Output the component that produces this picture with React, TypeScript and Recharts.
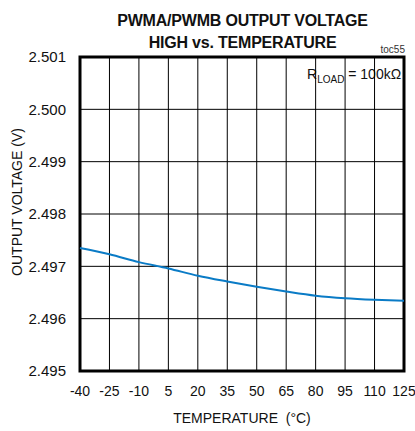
import { LineChart, Line, XAxis, YAxis, CartesianGrid, ReferenceArea } from "recharts";

const temps = [-40, -25, -10, 5, 20, 35, 50, 65, 80, 95, 110, 125];
const voltage = [2.49735, 2.49723, 2.49708, 2.49696, 2.49682, 2.49671, 2.49661, 2.49652, 2.49644, 2.49639, 2.49636, 2.49634];
const yTicks = [2.495, 2.496, 2.497, 2.498, 2.499, 2.5, 2.501];

const data = temps.map((t, i) => ({ t, v: voltage[i] }));

const font = "'Liberation Sans', Arial, sans-serif";
const narrow = "'Liberation Sans Narrow', 'Arial Narrow', 'Liberation Sans', sans-serif";

export default function App() {
  return (
    <div style={{ position: "absolute", left: 0, top: 0, width: 415, height: 431, background: "#fff", fontFamily: font }}>
      <div style={{ position: "absolute", left: 0, width: 415, top: 10, textAlign: "center", paddingLeft: 70, boxSizing: "border-box", fontWeight: "bold", fontSize: 16, lineHeight: "22px", letterSpacing: -0.2, color: "#111" }}>
        <div>PWMA/PWMB OUTPUT VOLTAGE</div>
        <div>HIGH vs. TEMPERATURE</div>
      </div>
      <div style={{ position: "absolute", right: 10, top: 44, fontSize: 10, color: "#333" }}>toc55</div>
      <div style={{ position: "absolute", left: 307, top: 66, fontSize: 14, fontFamily: narrow, color: "#111" }}>
        R<sub style={{ fontSize: 10 }}>LOAD</sub> = 100kΩ
      </div>
      <div style={{ position: "absolute", left: 17, top: 202, transform: "translate(-50%, -50%) rotate(-90deg)", fontSize: 14, fontFamily: narrow, whiteSpace: "nowrap", color: "#111" }}>
        OUTPUT VOLTAGE (V)
      </div>
      <div style={{ position: "absolute", left: 0, width: 415, paddingLeft: 80, paddingRight: 11, boxSizing: "border-box", top: 410, textAlign: "center", fontSize: 14, fontFamily: narrow, color: "#111", whiteSpace: "pre" }}>
        {"TEMPERATURE  (°C)"}
      </div>
      <LineChart width={415} height={431} data={data} margin={{ top: 57, right: 11, bottom: 0, left: 0 }}>
        <CartesianGrid stroke="#000" strokeWidth={1} />
        <XAxis
          dataKey="t"
          type="number"
          domain={[-40, 125]}
          ticks={temps}
          height={60}
          axisLine={false}
          tickLine={false}
          tick={{ fontSize: 14, fill: "#111", fontFamily: narrow }}
          dy={7}
          interval={0}
        />
        <YAxis
          type="number"
          domain={[2.495, 2.501]}
          ticks={yTicks}
          width={80}
          axisLine={false}
          tickLine={false}
          tick={{ fontSize: 15, fill: "#111", fontFamily: narrow }}
          tickFormatter={(v: number) => v.toFixed(3)}
          dx={-6}
          interval={0}
        />
        <ReferenceArea x1={-40} x2={125} y1={2.495} y2={2.501} fill="none" stroke="#000" strokeWidth={3} ifOverflow="visible" />
        <Line type="monotone" dataKey="v" stroke="#0a7bc6" strokeWidth={2} dot={false} isAnimationActive={false} />
      </LineChart>
    </div>
  );
}
